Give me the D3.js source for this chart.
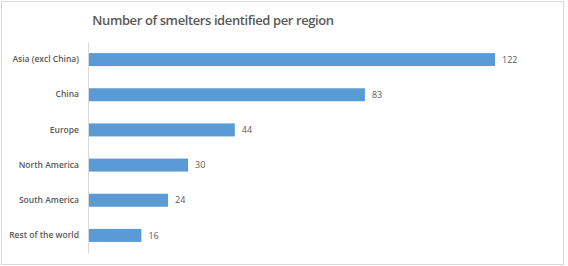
<!DOCTYPE html>
<html>
<head>
<meta charset="utf-8">
<script src="https://cdn.jsdelivr.net/npm/d3@7"></script>
<style>
  body { margin: 0; background: #fff; }
  svg { display: block; }
</style>
</head>
<body>
<svg id="chart" width="568" height="266"></svg>
<script>
// chart data
const regions = ['Asia (excl China)', 'China', 'Europe', 'North America', 'South America', 'Rest of the world'];
const smelters = [122, 83, 44, 30, 24, 16];

const width = 568, height = 266;
const margin = { top: 42, right: 73, bottom: 13, left: 88 };

const svg = d3.select('#chart');

// outer frame
svg.append('rect')
    .attr('x', 1.5).attr('y', 1.5)
    .attr('width', width - 6).attr('height', height - 3)
    .attr('fill', '#fff')
    .attr('stroke', '#d9d9d9');

// title
svg.append('text')
    .attr('x', 213)
    .attr('y', 25)
    .attr('text-anchor', 'middle')
    .style('font-family', 'Open Sans, sans-serif')
    .style('font-weight', '600')
    .style('font-size', '13px')
    .style('letter-spacing', '-0.4px')
    .attr('fill', '#595959')
    .text('Number of smelters identified per region');

const innerW = width - margin.left - margin.right;
const innerH = height - margin.top - margin.bottom;

const chart = svg.append('g')
    .attr('transform', `translate(${margin.left},${margin.top})`);

const x = d3.scaleLinear().domain([0, 122]).range([0, 407]);
const y = d3.scaleBand().domain(regions).range([0, innerH]).paddingInner(0.63).paddingOuter(0.315);

// bars
chart.selectAll('.bar')
    .data(regions)
    .enter()
    .append('rect')
    .attr('class', 'bar')
    .attr('x', 0)
    .attr('y', d => y(d))
    .attr('width', (d, i) => x(smelters[i]))
    .attr('height', y.bandwidth())
    .attr('fill', '#5b9bd5');

// value labels
chart.selectAll('.value')
    .data(regions)
    .enter()
    .append('text')
    .attr('class', 'value')
    .attr('x', (d, i) => x(smelters[i]) + 7)
    .attr('y', d => y(d) + y.bandwidth() / 2)
    .attr('dy', '0.35em')
    .style('font-family', 'Open Sans, sans-serif')
    .style('font-size', '9px')
    .attr('fill', '#595959')
    .text((d, i) => smelters[i]);

// category axis
const yAxisG = chart.append('g')
    .call(d3.axisLeft(y).tickSize(0).tickPadding(9));
yAxisG.select('.domain').attr('stroke', '#d9d9d9');
yAxisG.selectAll('.tick text')
    .style('font-family', 'Open Sans, sans-serif')
    .style('font-weight', '600')
    .style('font-size', '8.5px')
    .attr('fill', '#595959');
</script>
</body>
</html>
